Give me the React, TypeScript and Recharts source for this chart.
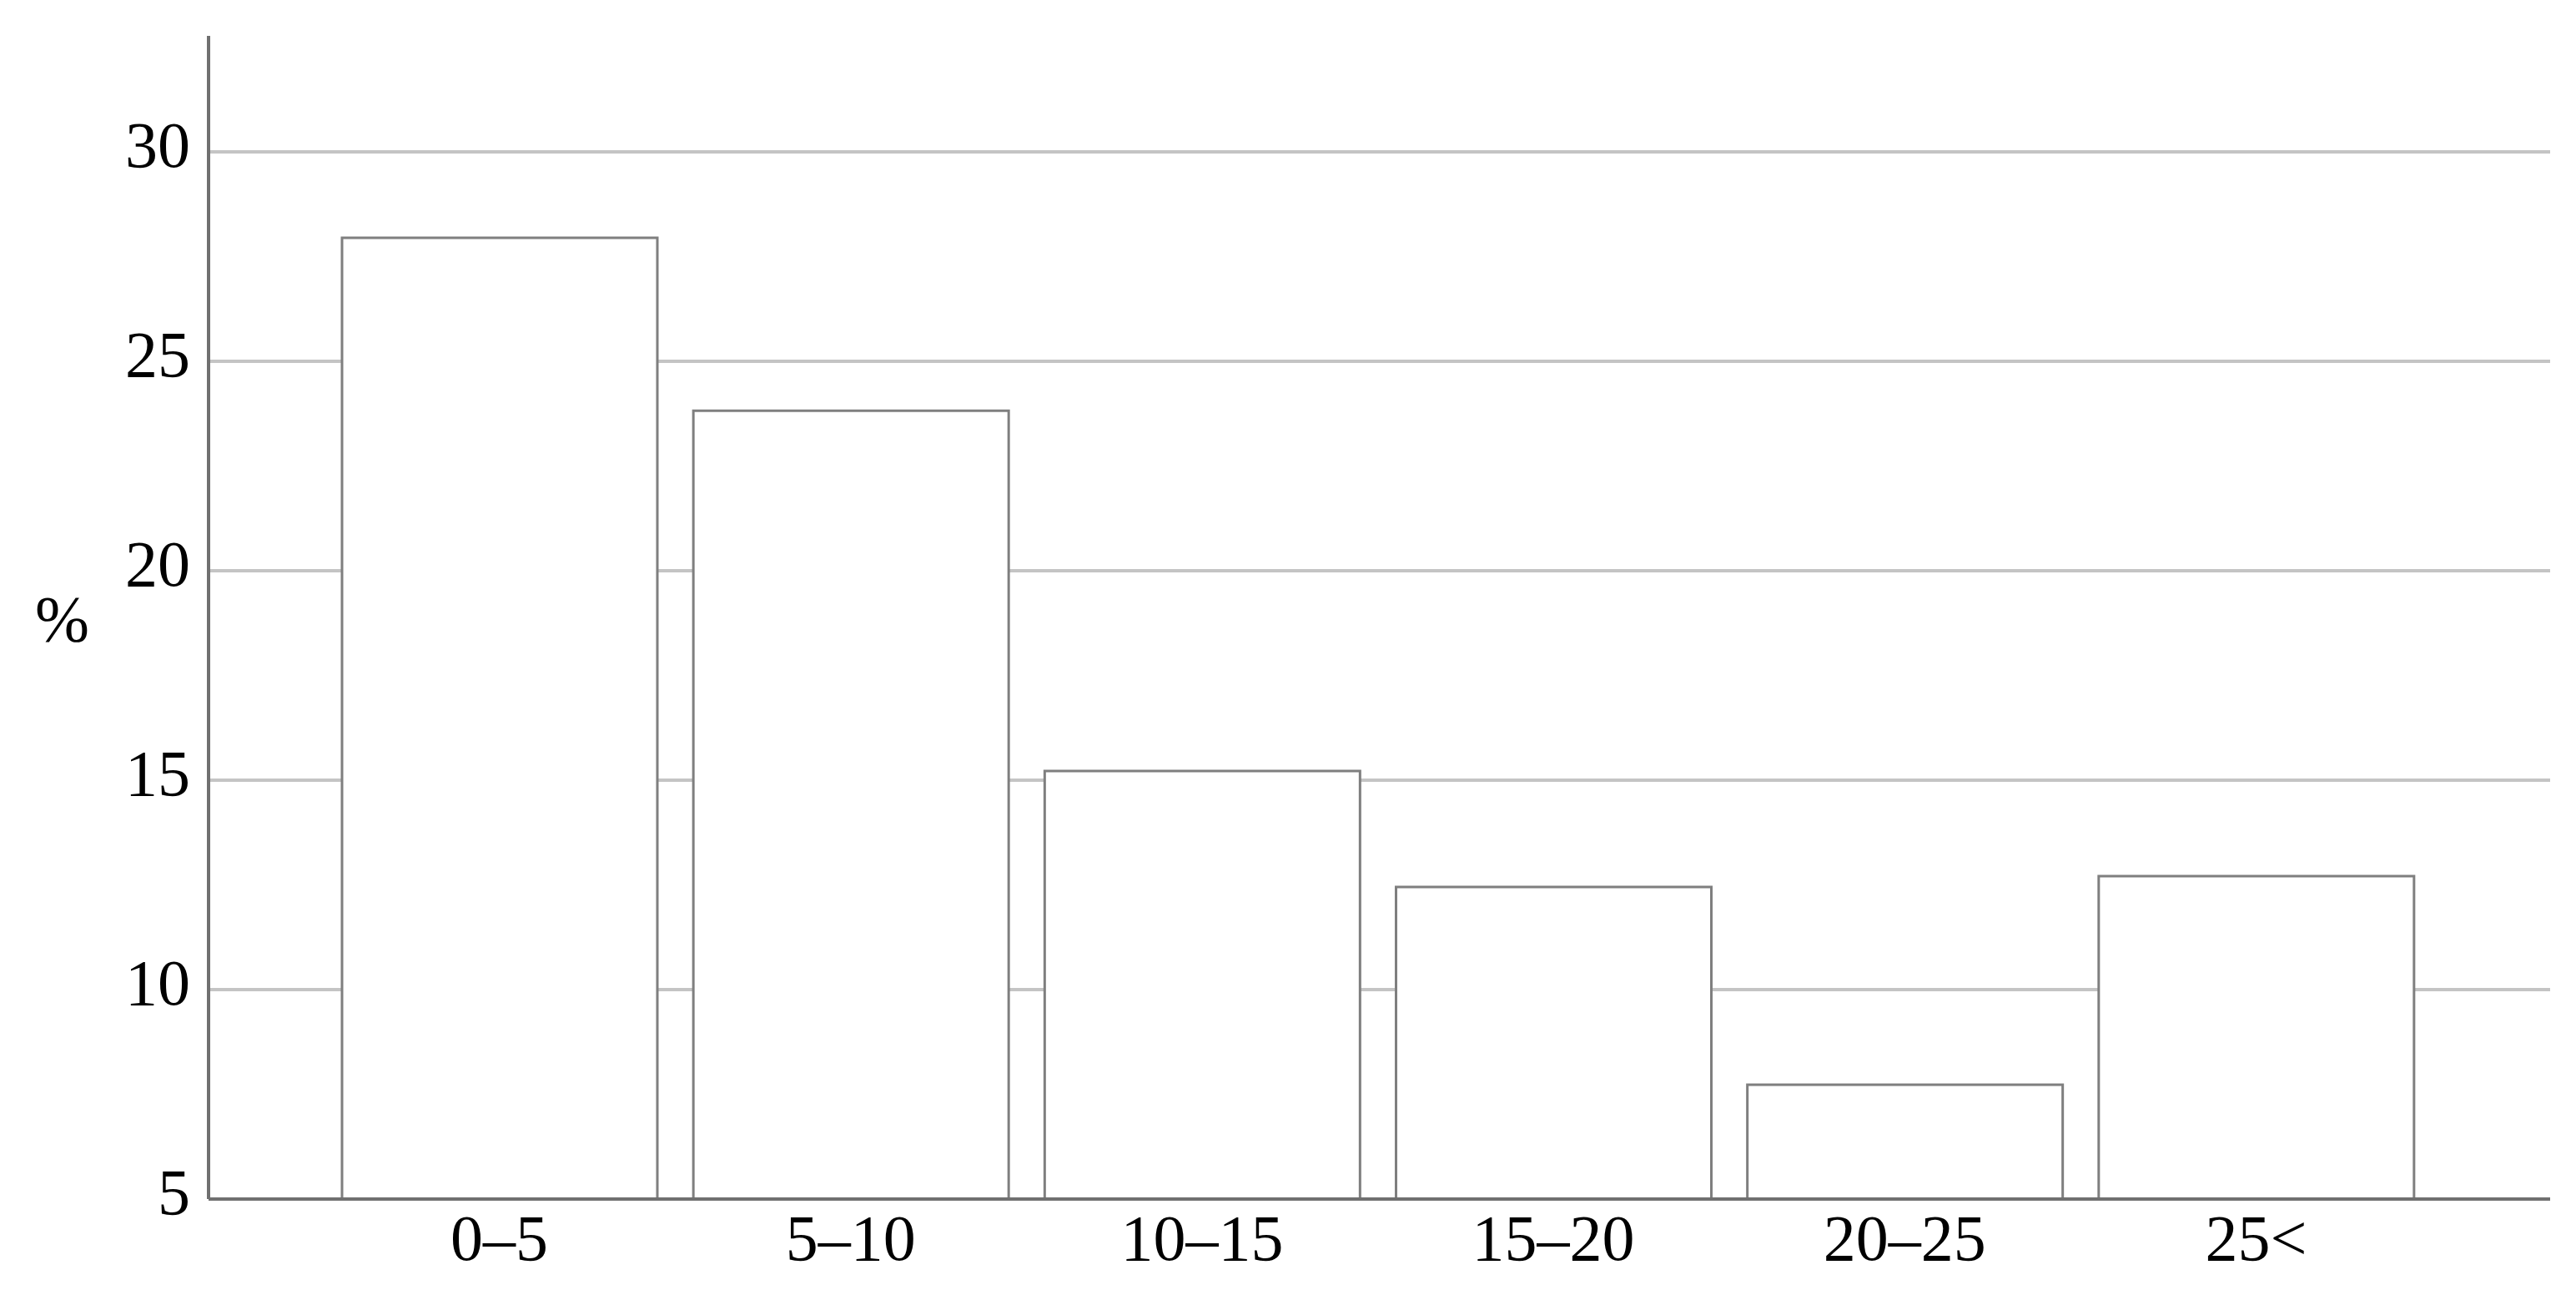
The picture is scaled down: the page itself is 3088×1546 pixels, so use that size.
import { BarChart, Bar, XAxis, YAxis, CartesianGrid } from "recharts";

// share of cases by range
const categories = ["0–5", "5–10", "10–15", "15–20", "20–25", "25<"];
const percents = [27.95, 23.82, 15.22, 12.45, 7.73, 12.71];
const yTicks = [5, 10, 15, 20, 25, 30];

const data = categories.map((name, i) => ({ name, value: percents[i] }));

const FONT = '"Liberation Serif", "DejaVu Serif", serif';

const YTick = ({ x, y, payload }: any) => (
  <text x={x} y={y} dy={18} textAnchor="end" fontFamily={FONT} fontSize={78} fill="#000">
    {payload.value}
  </text>
);

const XTick = ({ x, y, payload }: any) => (
  <text x={x} y={y} dy={73} textAnchor="middle" fontFamily={FONT} fontSize={78} fill="#000">
    {payload.value}
  </text>
);

export default function App() {
  return (
    <div style={{ position: "absolute", left: 0, top: 0, background: "#fff" }}>
      <BarChart
        width={3088}
        height={1546}
        data={data}
        margin={{ top: 43, right: 31, left: 0, bottom: 0 }}
      >
        <CartesianGrid
          vertical={false}
          horizontalValues={yTicks}
          stroke="#c4c4c4"
          strokeWidth={4}
        />
        <XAxis
          dataKey="name"
          height={109}
          padding={{ left: 138, right: 142 }}
          axisLine={{ stroke: "#707070", strokeWidth: 4 }}
          tickLine={false}
          tickSize={0}
          tickMargin={0}
          tick={<XTick />}
          interval={0}
        />
        <YAxis
          width={250}
          domain={[5, 32.77]}
          ticks={yTicks}
          allowDataOverflow
          axisLine={{ stroke: "#707070", strokeWidth: 4 }}
          tickLine={false}
          tickSize={0}
          tickMargin={22}
          tick={<YTick />}
          label={{
            value: "%",
            position: "insideLeft",
            offset: 42,
            fontFamily: FONT,
            fontSize: 78,
            fill: "#000",
          }}
        />
        <Bar
          dataKey="value"
          barSize={378}
          fill="#ffffff"
          stroke="#7f7f7f"
          strokeWidth={3}
          isAnimationActive={false}
        />
      </BarChart>
    </div>
  );
}
